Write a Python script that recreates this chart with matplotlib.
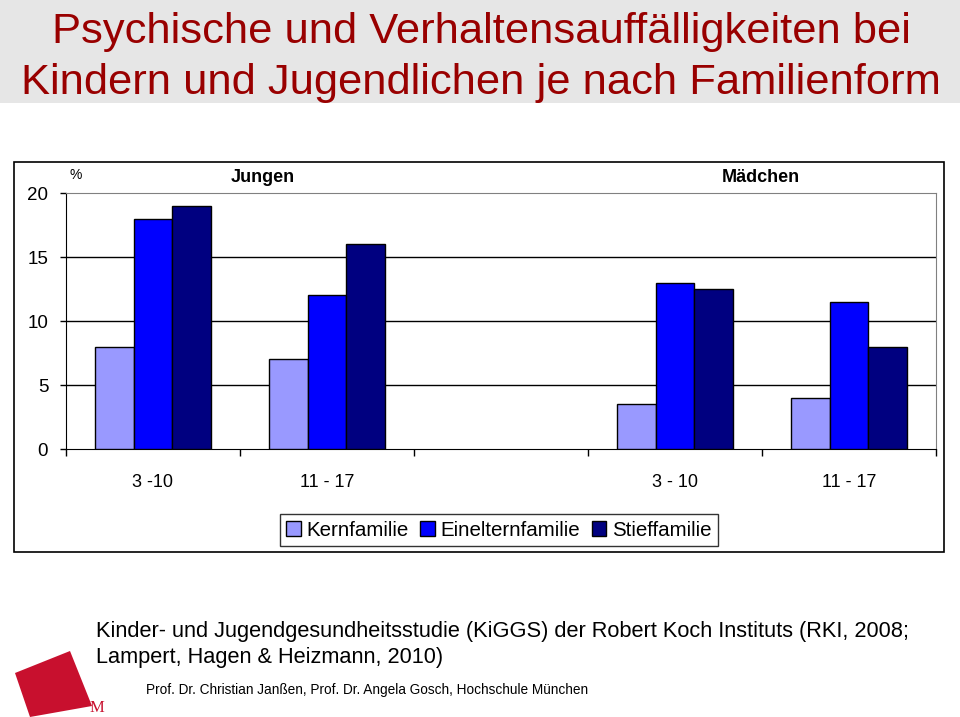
import matplotlib
matplotlib.use("Agg")
import matplotlib.pyplot as plt
import numpy as np
from matplotlib.patches import Rectangle, Polygon

plt.rcParams['font.family'] = ['Liberation Sans', 'DejaVu Sans']

# ---- data ----
categories = ["3 -10", "11 - 17", "", "3 - 10", "11 - 17"]
series_names = ["Kernfamilie", "Einelternfamilie", "Stieffamilie"]
kernfamilie = [8, 7, np.nan, 3.5, 4]
einelternfamilie = [18, 12, np.nan, 13, 11.5]
stieffamilie = [19, 16, np.nan, 12.5, 8]
colors = ["#9999FF", "#0000FF", "#000080"]
yticks = [0, 5, 10, 15, 20]

W, H = 960, 717
fig = plt.figure(figsize=(W / 100, H / 100), dpi=100)

def fx(px):
    return px / W

def fy(py):
    return 1 - py / H

# title band
fig.patches.append(Rectangle((0, fy(103)), 1, 103 / H, transform=fig.transFigure,
                             facecolor="#E6E6E6", edgecolor="none", zorder=0))
fig.text(fx(481), fy(43), "Psychische und Verhaltensauffälligkeiten bei",
         ha="center", va="baseline", color="#990000", fontsize=31.3)
fig.text(fx(481), fy(94), "Kindern und Jugendlichen je nach Familienform",
         ha="center", va="baseline", color="#990000", fontsize=31.3)

# chart border
fig.patches.append(Rectangle((fx(14), fy(552)), (944 - 14) / W, (552 - 162) / H,
                             transform=fig.transFigure, facecolor="none",
                             edgecolor="black", linewidth=1.2, zorder=1))

ax = fig.add_axes([fx(66), fy(449), (936 - 66) / W, (449 - 193) / H])
x = np.arange(len(categories))
bw = 1 / 4.5
for i, (vals, name, c) in enumerate(zip([kernfamilie, einelternfamilie, stieffamilie],
                                        series_names, colors)):
    ax.bar(x + (i - 1) * bw, vals, width=bw, color=c, edgecolor="black",
           linewidth=1, label=name, zorder=3)

ax.set_xlim(-0.5, len(categories) - 0.5)
ax.set_ylim(0, 20)
ax.set_yticks(yticks)
ax.set_yticklabels([str(t) for t in yticks], fontsize=13.5)
for t in yticks[1:-1]:
    ax.axhline(t, color="black", linewidth=1, zorder=1)
ax.set_xticks(x)
ax.set_xticklabels(categories, fontsize=13)
ax.tick_params(axis="x", which="major", length=0, pad=18)
ax.set_xticks(np.arange(-0.5, len(categories), 1), minor=True)
ax.tick_params(axis="x", which="minor", length=5, direction="out", width=1)
ax.tick_params(axis="y", length=4.3, direction="out", width=1, pad=8.5)
ax.spines["left"].set_color("black")
ax.spines["bottom"].set_color("black")
ax.spines["top"].set_color("#808080")
ax.spines["right"].set_color("#808080")

fig.text(fx(76), fy(175), "%", fontsize=10, ha="center", va="center")
fig.text(fx(263), fy(178), "Jungen", fontsize=13, fontweight="bold", ha="center", va="center")
fig.text(fx(761), fy(178), "Mädchen", fontsize=13, fontweight="bold", ha="center", va="center")

leg = fig.legend(loc="center", bbox_to_anchor=(fx(499), fy(530)), ncol=3, fontsize=14.8,
                 frameon=True, fancybox=False, edgecolor="black", handlelength=0.7,
                 handleheight=0.7, handletextpad=0.3, columnspacing=0.55,
                 borderpad=0.3)
leg.get_frame().set_linewidth(1)

# source text
fig.text(fx(96), fy(632), "Kinder- und Jugendgesundheitsstudie (KiGGS) der Robert Koch Instituts (RKI, 2008;",
         fontsize=15.7, ha="left", va="center")
fig.text(fx(96), fy(658), "Lampert, Hagen & Heizmann, 2010)", fontsize=15.7, ha="left", va="center")
fig.text(fx(146), fy(690), "Prof. Dr. Christian Janßen, Prof. Dr. Angela Gosch, Hochschule München",
         fontsize=9.8, ha="left", va="center")

# logo
logo = Polygon([(fx(15), fy(673)), (fx(70), fy(651)), (fx(92), fy(706)), (fx(30), fy(717))],
               closed=True, transform=fig.transFigure, facecolor="#C8102E",
               edgecolor="none", zorder=2)
fig.patches.append(logo)
fig.text(fx(97), fy(708), "M", fontsize=12, family="Liberation Serif", color="#C8102E",
         ha="center", va="center")

fig.savefig("out.png", dpi=100)
